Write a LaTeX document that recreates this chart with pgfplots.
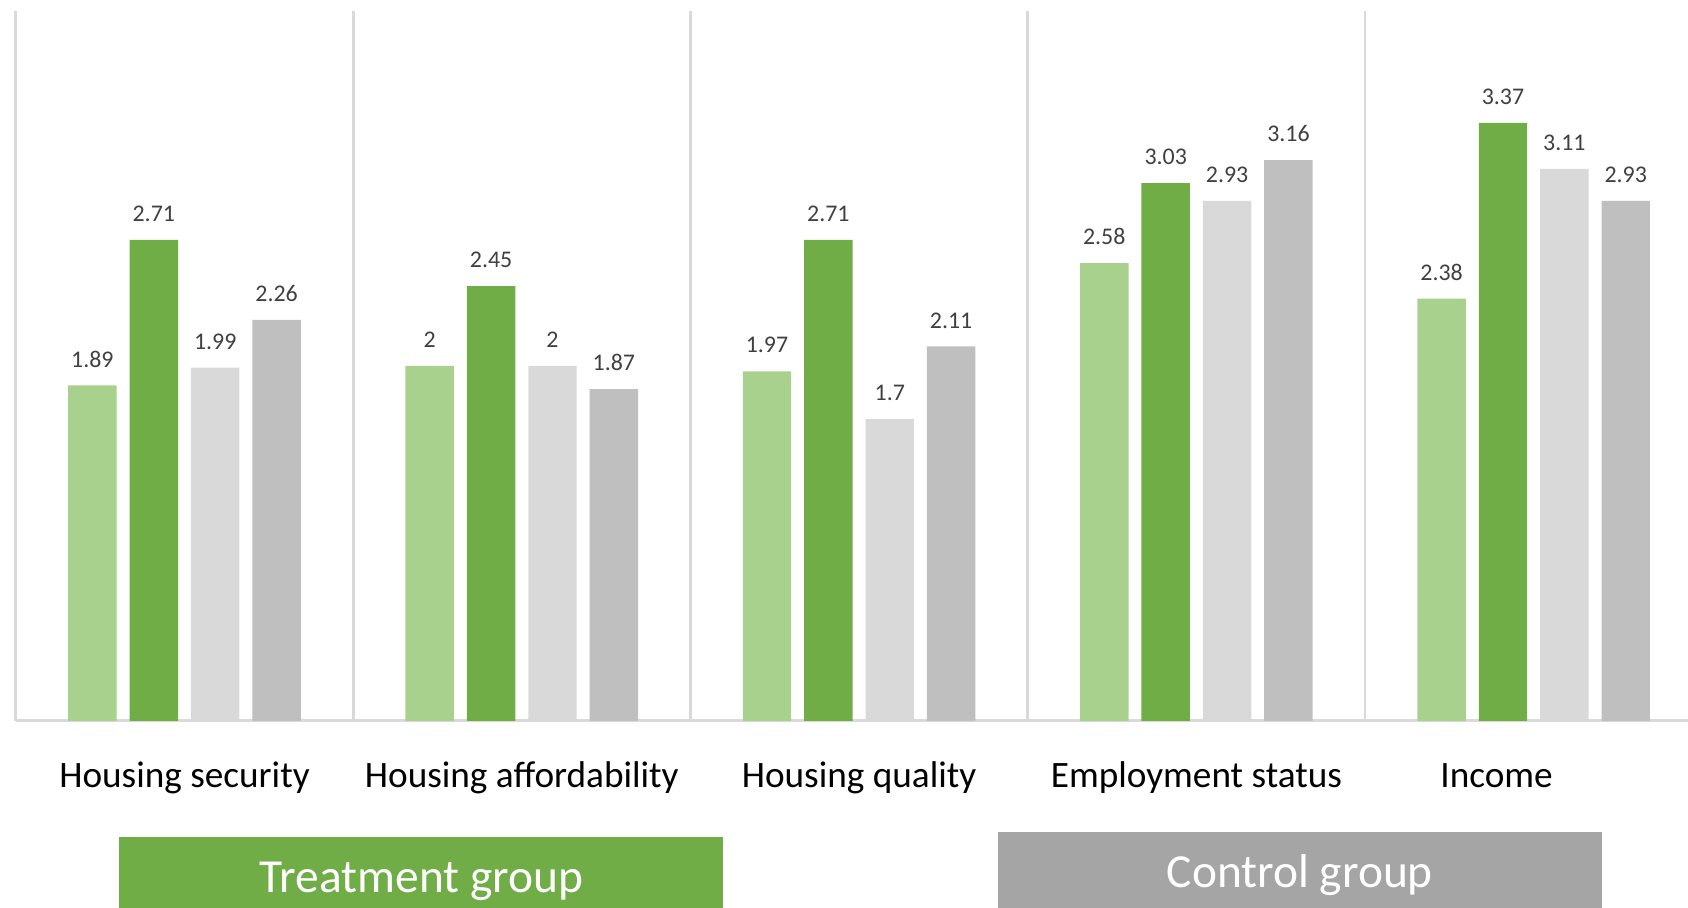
\documentclass[border=0pt]{standalone}
\usepackage{pgfplots}
\pgfplotsset{compat=1.18}
\usepackage{fontspec}
\setmainfont{Carlito}

\definecolor{lgreen}{HTML}{A9D18E}
\definecolor{dgreen}{HTML}{70AD47}
\definecolor{lgray}{HTML}{D9D9D9}
\definecolor{mgray}{HTML}{BFBFBF}
\definecolor{boxgray}{HTML}{A5A5A5}
\definecolor{gridgray}{HTML}{D9D9D9}
\definecolor{labgray}{HTML}{404040}

\begin{document}
\begin{tikzpicture}
  \begin{axis}[
      scale only axis,
      width=168.67mm, height=71mm,
      ybar, bar width=0.1436,
      xmin=-0.5, xmax=4.5,
      ymin=0, ymax=4,
      clip=false,
      axis lines*=left,
      axis line style={draw=gridgray, line width=0.8pt},
      ytick=\empty,
      xtick={0,1,2,3,3.89},
      xticklabels={Housing security, Housing affordability, Housing quality, Employment status, Income},
      major tick length=0pt, minor tick length=0pt,
      xticklabel style={font=\fontsize{10.6}{12}\selectfont, anchor=base, yshift=-6.7mm},
      minor xtick={0.5,1.5,2.5,3.5,4.5},
      xminorgrids,
      minor grid style={draw=gridgray, line width=0.8pt},
      /pgf/number format/assume math mode=true,
      nodes near coords,
      nodes near coords style={font=\fontsize{6.8}{8}\selectfont, color=labgray,
        anchor=base, inner sep=0pt, yshift=1.83mm},
    ]
    \addplot[draw=none, fill=lgreen, bar shift=-0.273] coordinates {
      (0,1.89) (1,2) (2,1.97) (3,2.58) (4,2.38)};
    \addplot[draw=none, fill=dgreen, bar shift=-0.091] coordinates {
      (0,2.71) (1,2.45) (2,2.71) (3,3.03) (4,3.37)};
    \addplot[draw=none, fill=lgray, bar shift=0.091] coordinates {
      (0,1.99) (1,2) (2,1.7) (3,2.93) (4,3.11)};
    \addplot[draw=none, fill=mgray, bar shift=0.273] coordinates {
      (0,2.26) (1,1.87) (2,2.11) (3,3.16) (4,2.93)};

    % group boxes below the categories
    \fill[dgreen] (axis cs:-0.193,-0.656) rectangle (axis cs:1.597,-1.06);
    \node[text=white, font=\fontsize{13.5}{16}\selectfont]
      at (axis cs:0.702,-0.903) {Treatment group};
    \fill[boxgray] (axis cs:2.412,-0.625) rectangle (axis cs:4.203,-1.06);
    \node[text=white, font=\fontsize{13.5}{16}\selectfont]
      at (axis cs:3.307,-0.867) {Control group};

    \coordinate (bbsw) at (axis cs:-0.547,-1.053);
    \coordinate (bbne) at (axis cs:4.4576,4.062);
  \end{axis}
  \pgfresetboundingbox
  \path[use as bounding box] (bbsw) rectangle (bbne);
\end{tikzpicture}
\end{document}
